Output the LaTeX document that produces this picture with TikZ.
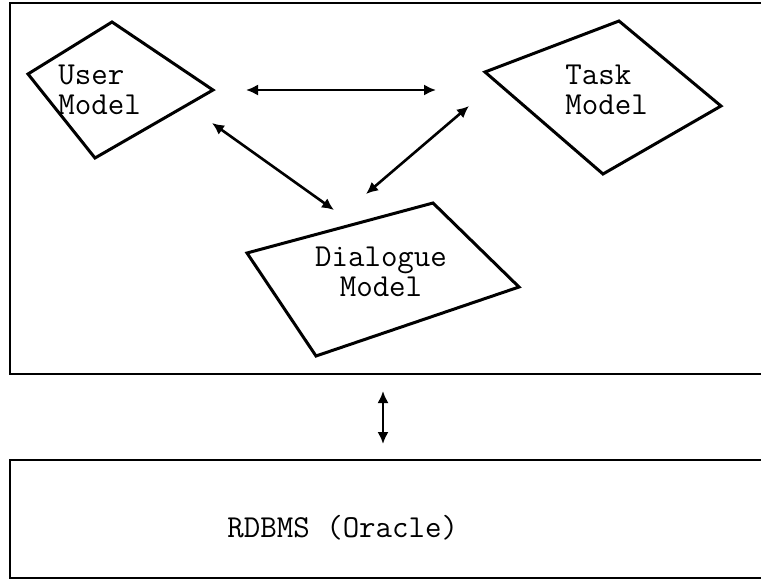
\documentclass[tikz,border=0pt]{standalone}
\usepackage{fontspec}
\usepackage{tikz}
\usetikzlibrary{arrows.meta}
\newcommand{\rw}{761}

\tikzset{
  modelshape/.style={line width=1.5pt, line join=miter},
  layerbox/.style={line width=1.1pt},
  linkarrow/.style={line width=1.3pt, {Latex[length=6pt,width=5.6pt]}-{Latex[length=6pt,width=5.6pt]}},
  modeltext/.style={inner sep=0pt, font=\ttfamily\fontsize{16}{15}\selectfont}
}

\begin{document}
\begin{tikzpicture}[x=0.5pt,y=-0.5pt]
\useasboundingbox (0,0) rectangle (\rw,579);

% the two layers, open on the right
\draw[layerbox] (\rw,3) -- (10,3) -- (10,374) -- (\rw,374);
\draw[layerbox] (\rw,460) -- (10,460) -- (10,578) -- (\rw,578);

% model shapes
\coordinate (u1) at (112,22);
\coordinate (u2) at (213,90);
\coordinate (u3) at (95,158);
\coordinate (u4) at (28,74);
\draw[modelshape] (u1)--(u2)--(u3)--(u4)--cycle;

\coordinate (t1) at (485,72);
\coordinate (t2) at (619,21);
\coordinate (t3) at (721,106);
\coordinate (t4) at (603,174);
\draw[modelshape] (t1)--(t2)--(t3)--(t4)--cycle;

\coordinate (d1) at (247,253);
\coordinate (d2) at (433,203);
\coordinate (d3) at (519,287);
\coordinate (d4) at (316,356);
\draw[modelshape] (d1)--(d2)--(d3)--(d4)--cycle;

% labels
\node[modeltext, anchor=north west, align=left] (user) at (58,65) {User\\Model};
\node[modeltext, anchor=north west, align=left] (task) at (565,65) {Task\\Model};
\node[modeltext, anchor=north, align=center] (dialogue) at (381,247) {Dialogue\\Model};
\node[modeltext, anchor=base west] (rdbms) at (227,537) {RDBMS (Oracle)};

% links between the models
\coordinate (ut-a) at (246,90);
\coordinate (ut-b) at (436,90);
\coordinate (ud-a) at (212,123);
\coordinate (ud-b) at (334,210);
\coordinate (td-a) at (469,106);
\coordinate (td-b) at (366,194);
\coordinate (db-a) at (383,391);
\coordinate (db-b) at (383,444);
\draw[linkarrow] (ut-a) -- (ut-b);
\draw[linkarrow] (ud-a) -- (ud-b);
\draw[linkarrow] (td-a) -- (td-b);
\draw[linkarrow] (db-a) -- (db-b);
\end{tikzpicture}
\end{document}
